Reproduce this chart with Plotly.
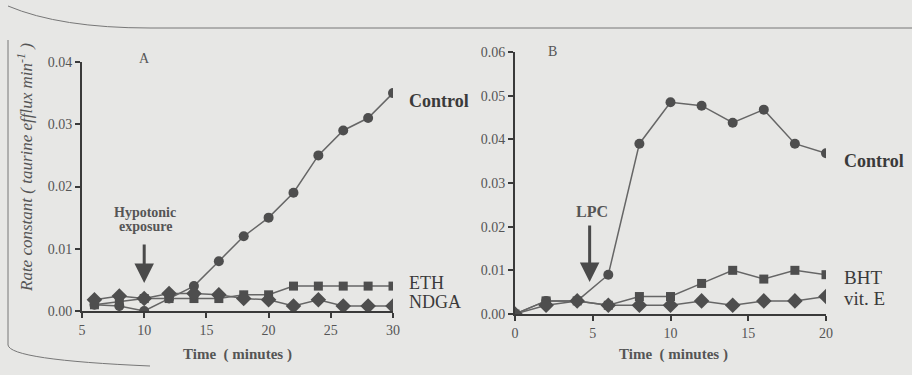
import plotly.graph_objects as go

# ---------------- data ----------------
time_a = [6, 8, 10, 12, 14, 16, 18, 20, 22, 24, 26, 28, 30]
control_a = [0.001, 0.0008, 0.0, 0.002, 0.004, 0.008, 0.012, 0.015, 0.019, 0.025, 0.029, 0.031, 0.035]
eth_a = [0.001, 0.0015, 0.002, 0.002, 0.002, 0.002, 0.0026, 0.0026, 0.004, 0.004, 0.004, 0.004, 0.004]
ndga_a = [0.0018, 0.0024, 0.002, 0.0028, 0.0028, 0.0026, 0.002, 0.0018, 0.0008, 0.0018, 0.0008, 0.0008, 0.0008]

time_b = [0, 2, 4, 6, 8, 10, 12, 14, 16, 18, 20]
control_b = [0.0, 0.003, 0.003, 0.009, 0.039, 0.0485, 0.0477, 0.0438, 0.0468, 0.039, 0.0368]
bht_b = [0.0, 0.003, 0.003, 0.002, 0.004, 0.004, 0.007, 0.010, 0.008, 0.010, 0.009]
vite_b = [0.0, 0.002, 0.003, 0.002, 0.002, 0.002, 0.003, 0.002, 0.003, 0.003, 0.004]

ticks_a_x = [5, 10, 15, 20, 25, 30]
ticks_a_y = [0.0, 0.01, 0.02, 0.03, 0.04]
ticks_b_x = [0, 5, 10, 15, 20]
ticks_b_y = [0.0, 0.01, 0.02, 0.03, 0.04, 0.05, 0.06]

# ---------------- style ----------------
BG = "#e7e7e5"
INK = "#3a3a3a"
LINE = "#666666"
MARK = "#4e4e4e"
SERIF = "Liberation Serif"
W, H = 912, 375


def px(x):
    return x / W


def py(y):
    return 1 - y / H


fig = go.Figure()


def add_series(x, y, symbol, size, xa, ya):
    fig.add_trace(go.Scatter(
        x=x, y=y, mode="lines+markers", xaxis=xa, yaxis=ya,
        line=dict(color=LINE, width=1.5),
        marker=dict(symbol=symbol, size=size, color=MARK, line=dict(width=0)),
        showlegend=False, hoverinfo="skip"))


add_series(time_a, control_a, "circle", 10, "x", "y")
add_series(time_a, eth_a, "square", 9, "x", "y")
add_series(time_a, ndga_a, "diamond", 12, "x", "y")
add_series(time_b, control_b, "circle", 10, "x2", "y2")
add_series(time_b, bht_b, "square", 9, "x2", "y2")
add_series(time_b, vite_b, "diamond", 12, "x2", "y2")

axis_common = dict(showgrid=False, zeroline=False, showline=True, linecolor=INK,
                   linewidth=2, ticks="outside", ticklen=5, tickwidth=1.5, tickcolor=INK,
                   automargin=False,
                   tickfont=dict(family=SERIF, size=14, color="#555"))

fig.update_layout(
    width=W, height=H, paper_bgcolor=BG, plot_bgcolor=BG,
    margin=dict(l=0, r=0, t=0, b=0, autoexpand=False),
    xaxis=dict(domain=[px(82), px(393)], range=[5, 30], tickvals=ticks_a_x,
               anchor="y", **axis_common),
    yaxis=dict(domain=[py(311), py(62)], range=[0, 0.04], tickvals=ticks_a_y,
               tickformat=".2f", anchor="x", **axis_common),
    xaxis2=dict(domain=[px(515), px(826)], range=[0, 20], tickvals=ticks_b_x,
                anchor="y2", **axis_common),
    yaxis2=dict(domain=[py(314), py(52)], range=[0, 0.06], tickvals=ticks_b_y,
                tickformat=".2f", anchor="x2", **axis_common),
)

ann = []


def text(x, y, s, size=14, bold=False, italic=False, xanchor="left", angle=0, color=INK):
    if bold:
        s = "<b>" + s + "</b>"
    if italic:
        s = "<i>" + s + "</i>"
    ann.append(dict(x=px(x), y=py(y), xref="paper", yref="paper", text=s, showarrow=False,
                    font=dict(family=SERIF, size=size, color=color), xanchor=xanchor,
                    yanchor="middle", textangle=angle))


text(25, 168, "Rate constant ( taurine efflux min<sup>-1</sup> )", size=17, italic=True,
     xanchor="center", angle=-90, color="#555")
text(137, 58, "A", size=14, color="#555")
text(546, 51, "B", size=14, color="#555")
text(407, 101, "Control", size=18, bold=True)
text(407, 283, "ETH", size=18)
text(407, 302, "NDGA", size=18)
text(842, 161, "Control", size=18, bold=True)
text(842, 277, "BHT", size=19)
text(842, 298, "vit. E", size=19)
text(238, 354, "Time  ( minutes )", size=15, bold=True, xanchor="center", color="#555")
text(673, 354, "Time  ( minutes )", size=15, bold=True, xanchor="center", color="#555")
text(145, 213, "Hypotonic", size=14, bold=True, xanchor="center", color="#555")
text(145, 227, "exposure", size=14, bold=True, xanchor="center", color="#555")
text(592, 211, "LPC", size=16, bold=True, xanchor="center", color="#555")

# arrows
ann.append(dict(x=10, y=0.0045, xref="x", yref="y", ax=0, ay=-40, text="", showarrow=True,
                arrowhead=2, arrowsize=1.3, arrowwidth=3, arrowcolor="#4a4a4a"))
ann.append(dict(x=4.8, y=0.0073, xref="x2", yref="y2", ax=0, ay=-58, text="", showarrow=True,
                arrowhead=2, arrowsize=1.3, arrowwidth=3, arrowcolor="#4a4a4a"))

fig.update_layout(annotations=ann)

# scan border lines (decoration)
fig.add_shape(type="path", xref="paper", yref="paper",
              path=f"M {px(8)} {py(6)} Q {px(60)} {py(28)} {px(150)} {py(28)} L 1 {py(28)}",
              line=dict(color="#777", width=1))
fig.add_shape(type="path", xref="paper", yref="paper",
              path=f"M {px(8)} {py(40)} L {px(8)} {py(345)} Q {px(10)} {py(360)} {px(150)} {py(366)}",
              line=dict(color="#777", width=1))

fig.write_html(
    "out.html",
    config={"displayModeBar": False},
    post_script="document.body.style.margin='0';document.body.style.background='#e7e7e5';",
)
